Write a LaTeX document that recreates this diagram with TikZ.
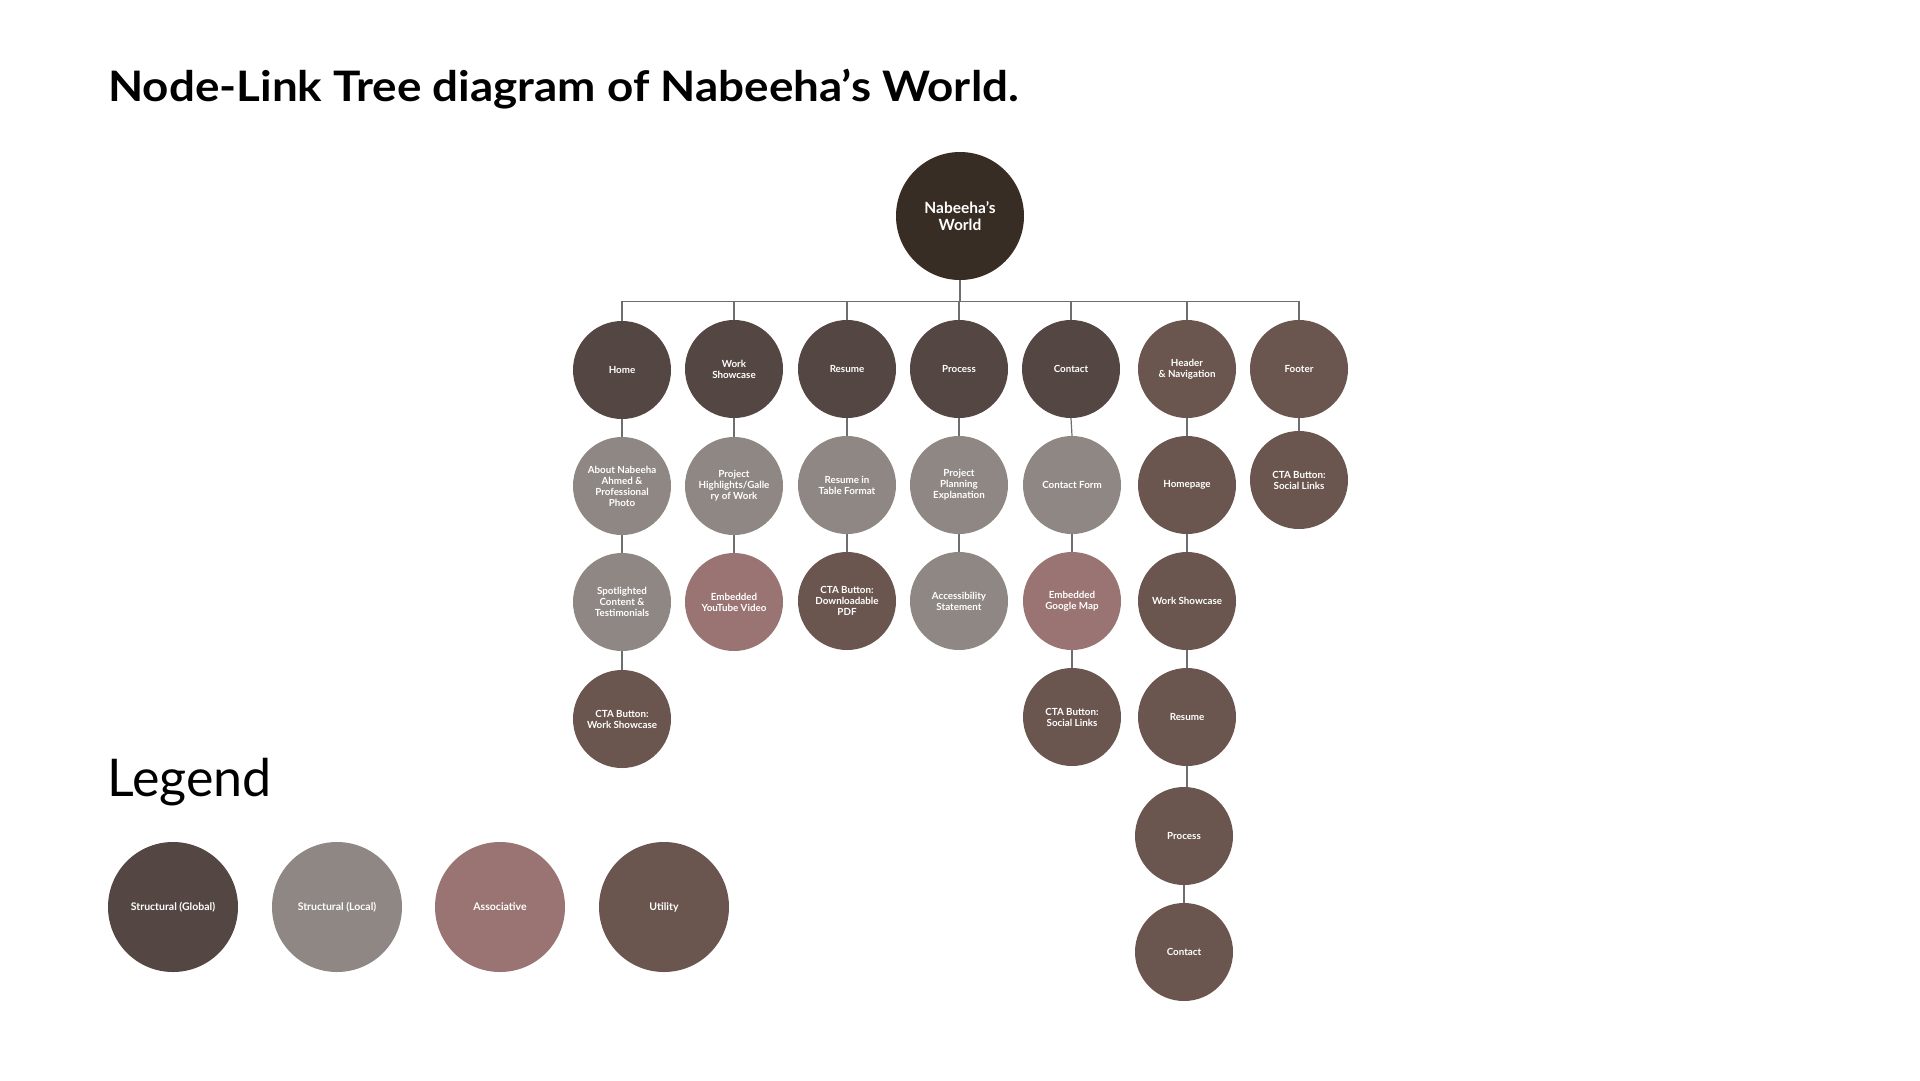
\documentclass[tikz,border=0pt]{standalone}
\usepackage{fontspec}
\setmainfont{Lato}
\definecolor{cRoot}{RGB}{56,45,36}
\definecolor{cGlob}{RGB}{84,70,66}
\definecolor{cLoc}{RGB}{142,135,132}
\definecolor{cAssoc}{RGB}{153,116,115}
\definecolor{cUtil}{RGB}{106,85,79}
\definecolor{cLine}{RGB}{110,110,110}
\begin{document}
\begin{tikzpicture}[x=1pt,y=-1pt,
  bub/.style={circle, minimum size=98pt, inner sep=0pt, text=white, align=center,
    font=\fontsize{9.8}{11}\selectfont\bfseries},
  glob/.style={bub, fill=cGlob},
  loc/.style={bub, fill=cLoc},
  assoc/.style={bub, fill=cAssoc},
  util/.style={bub, fill=cUtil},
  leg/.style={circle, minimum size=130pt, inner sep=0pt, text=white, align=center,
    font=\fontsize{10.5}{12}\selectfont\bfseries},
  conn/.style={draw=cLine, line width=1.2pt}]
\useasboundingbox[fill=white] (0,0) rectangle (1920,1080);

% title
\node[anchor=base west, inner sep=0pt, font=\fontsize{42}{48}\selectfont\bfseries] (title) at (108,101) {\scalebox{1.09}[1]{Node-Link Tree diagram of Nabeeha’s World.}};

% root
\node[circle, minimum size=128pt, inner sep=0pt, fill=cRoot, text=white, align=center,
  font=\fontsize{15.5}{17.5}\selectfont\bfseries] (root) at (960,216) {Nabeeha’s\\World};

% level 1
\node[glob] (home) at (622,370) {Home};
\node[glob] (work) at (734,369) {Work\\Showcase};
\node[glob] (resume) at (847,369) {Resume};
\node[glob] (process) at (959,369) {Process};
\node[glob] (contact) at (1071,369) {Contact};
\node[util] (header) at (1187,369) {Header\\\& Navigation};
\node[util] (footer) at (1299,369) {Footer};

% home column
\node[loc] (about) at (622,486) {About Nabeeha\\Ahmed \&\\Professional\\Photo};
\node[loc] (spot) at (622,602) {Spotlighted\\Content \&\\Testimonials};
\node[util] (ctaws) at (622,719) {CTA Button:\\Work Showcase};

% work column
\node[loc] (highlights) at (734,486) {Project\\Highlights/Galle\\ry of Work};
\node[assoc] (youtube) at (734,602) {Embedded\\YouTube Video};

% resume column
\node[loc] (table) at (847,485) {Resume in\\Table Format};
\node[util] (pdf) at (847,601) {CTA Button:\\Downloadable\\PDF};

% process column
\node[loc] (planning) at (959,485) {Project\\Planning\\Explanation};
\node[loc] (access) at (959,601) {Accessibility\\Statement};

% contact column
\node[loc] (form) at (1072,485) {Contact Form};
\node[assoc] (map) at (1072,601) {Embedded\\Google Map};
\node[util] (ctasl) at (1072,717) {CTA Button:\\Social Links};

% header column
\node[util] (hhome) at (1187,485) {Homepage};
\node[util] (hwork) at (1187,601) {Work Showcase};
\node[util] (hres) at (1187,717) {Resume};
\node[util] (hproc) at (1184,836) {Process};
\node[util] (hcont) at (1184,952) {Contact};

% footer column
\node[util] (fcta) at (1299,480) {CTA Button:\\Social Links};

% connectors from root
\foreach \c in {home,work,resume,process,contact,header,footer}
  \draw[conn] (root.south) -- ++(0,21) -| (\c.north);

% column connectors
\draw[conn] (home.south) -- (about.north);
\draw[conn] (about.south) -- (spot.north);
\draw[conn] (spot.south) -- (ctaws.north);
\draw[conn] (work.south) -- (highlights.north);
\draw[conn] (highlights.south) -- (youtube.north);
\draw[conn] (resume.south) -- (table.north);
\draw[conn] (table.south) -- (pdf.north);
\draw[conn] (process.south) -- (planning.north);
\draw[conn] (planning.south) -- (access.north);
\draw[conn] (contact.south) -- (form.north);
\draw[conn] (form.south) -- (map.north);
\draw[conn] (map.south) -- (ctasl.north);
\draw[conn] (header.south) -- (hhome.north);
\draw[conn] (hhome.south) -- (hwork.north);
\draw[conn] (hwork.south) -- (hres.north);
\draw[conn] (hres.south) -- (hres.south |- hproc.north);
\draw[conn] (hproc.south) -- (hcont.north);
\draw[conn] (footer.south) -- (fcta.north);

% legend
\node[anchor=base west, inner sep=0pt, font=\fontsize{52}{60}\selectfont] (legend) at (107,796) {Legend};
\node[leg, fill=cGlob] (lg1) at (173,907) {Structural (Global)};
\node[leg, fill=cLoc] (lg2) at (337,907) {Structural (Local)};
\node[leg, fill=cAssoc] (lg3) at (500,907) {Associative};
\node[leg, fill=cUtil] (lg4) at (664,907) {Utility};
\end{tikzpicture}
\end{document}
